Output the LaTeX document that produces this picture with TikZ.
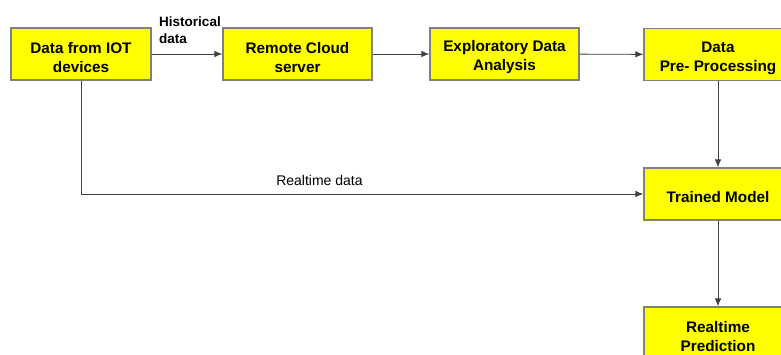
\documentclass[tikz,border=0pt]{standalone}
\usepackage{fontspec}
\setmainfont{Liberation Sans}
\usetikzlibrary{arrows.meta, positioning}
\definecolor{boxYellow}{RGB}{255,255,0}
\definecolor{lineGray}{gray}{0.25}
\definecolor{edgeGray}{gray}{0.5}
\newcommand{\topgap}{\rule{0pt}{18pt}}

\begin{document}
\begin{tikzpicture}[x=1pt, y=-1pt,
    stage/.style={draw=edgeGray, fill=boxYellow, line width=1.2pt, minimum width=149pt,
                  minimum height=52pt, inner sep=0pt, align=center,
                  font=\fontsize{15.3}{19}\selectfont\bfseries},
    flow/.style={draw=lineGray, line width=0.9pt, -{Latex[length=8pt, width=6.5pt]}}]
       % Rahmen wie im Original (rechts abgeschnitten)
       \useasboundingbox (0,0) rectangle (781,354);
       \clip (0,0) rectangle (781,354);

       \node[stage, minimum width=140pt] (iot) at (81,54) {\topgap Data from IOT\\devices};
       \node[stage] (cloud) at (297.5,54) {\topgap Remote Cloud\\server};
       \node[stage] (eda) at (504.5,54) {\topgap Exploratory Data\\Analysis};
       \node[stage, minimum width=148pt] (prep) at (718,54.5) {\topgap Data\\Pre- Processing};
       \node[stage, minimum width=148pt] (model) at (718,194) {\topgap Trained Model};
       \node[stage, minimum width=148pt] (pred) at (718,333) {\topgap Realtime\\Prediction};

       \draw[flow] (iot) -- node[above=7pt, xshift=3pt, align=left,
            font=\fontsize{13.5}{17}\selectfont\bfseries] (histLbl) {Historical\\data} (cloud);
       \draw[flow] (cloud) -- (eda);
       \draw[flow] (eda) -- (prep);
       \draw[flow] (prep) -- (model);
       \draw[flow] (model) -- (pred);

       % Echtzeitpfad
       \draw[flow] (iot.south) |- (model.west)
            node[pos=0.712, above=5pt, font=\fontsize{14}{17}\selectfont] (liveLbl) {Realtime data};
\end{tikzpicture}
\end{document}
